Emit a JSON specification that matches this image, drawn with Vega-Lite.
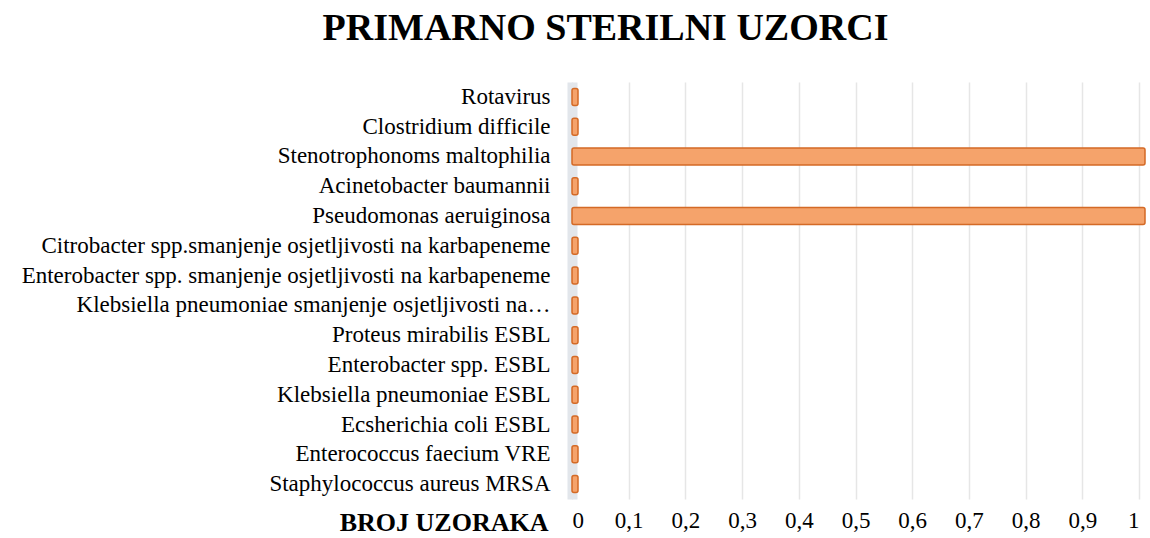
{
  "$schema": "https://vega.github.io/schema/vega-lite/v6.json",
  "autosize": "none",
  "width": 567,
  "height": 417,
  "padding": {"left": 572, "top": 82, "right": 11, "bottom": 39},
  "background": "white",
  "title": {
    "text": "PRIMARNO STERILNI UZORCI",
    "font": "Liberation Serif",
    "fontSize": 38,
    "fontWeight": "bold",
    "color": "#000000",
    "anchor": "middle",
    "dx": -250,
    "offset": 34
  },
  "data": {
    "values": [
      {"uzorak": "Rotavirus", "broj": 0},
      {"uzorak": "Clostridium difficile", "broj": 0},
      {"uzorak": "Stenotrophonoms maltophilia", "broj": 1},
      {"uzorak": "Acinetobacter baumannii", "broj": 0},
      {"uzorak": "Pseudomonas aeruiginosa", "broj": 1},
      {"uzorak": "Citrobacter spp.smanjenje osjetljivosti na karbapeneme", "broj": 0},
      {"uzorak": "Enterobacter spp. smanjenje osjetljivosti na karbapeneme", "broj": 0},
      {"uzorak": "Klebsiella pneumoniae smanjenje osjetljivosti na…", "broj": 0},
      {"uzorak": "Proteus mirabilis ESBL", "broj": 0},
      {"uzorak": "Enterobacter spp. ESBL", "broj": 0},
      {"uzorak": "Klebsiella pneumoniae ESBL", "broj": 0},
      {"uzorak": "Ecsherichia coli ESBL", "broj": 0},
      {"uzorak": "Enterococcus faecium VRE", "broj": 0},
      {"uzorak": "Staphylococcus aureus MRSA", "broj": 0}
    ]
  },
  "mark": {
    "type": "bar",
    "size": 17,
    "fill": "#F5A36B",
    "stroke": "#D46A26",
    "strokeWidth": 1.5,
    "cornerRadius": 2
  },
  "encoding": {
    "y": {
      "field": "uzorak",
      "type": "nominal",
      "sort": null,
      "axis": {
        "title": null,
        "ticks": false,
        "domain": true,
        "domainColor": "#E2E6EB",
        "domainWidth": 10,
        "zindex": 0,
        "labelFont": "Liberation Serif",
        "labelFontSize": 23,
        "labelColor": "#000000",
        "labelPadding": 22,
        "labelLimit": 700
      }
    },
    "x": {
      "field": "broj",
      "type": "quantitative",
      "scale": {"domain": [0, 1]},
      "axis": {
        "values": [0, 0.1, 0.2, 0.3, 0.4, 0.5, 0.6, 0.7, 0.8, 0.9, 1],
        "labelExpr": "replace(format(datum.value, '.1~f'), '.', ',')",
        "grid": true,
        "gridColor": "#E6E6E6",
        "gridWidth": 1.5,
        "domain": false,
        "ticks": false,
        "zindex": 0,
        "labelFont": "Liberation Serif",
        "labelFontSize": 23,
        "labelColor": "#000000",
        "labelPadding": 10,
        "title": "BROJ UZORAKA",
        "titleFont": "Liberation Serif",
        "titleFontSize": 26,
        "titleFontWeight": "bold",
        "titleColor": "#000000",
        "titleAlign": "right",
        "titleAnchor": "start",
        "titleX": -24,
        "titleY": 10,
        "titleBaseline": "top"
      }
    },
    "xOffset": {"value": 6},
    "x2": {"datum": 0}
  },
  "config": {"view": {"stroke": null}}
}
